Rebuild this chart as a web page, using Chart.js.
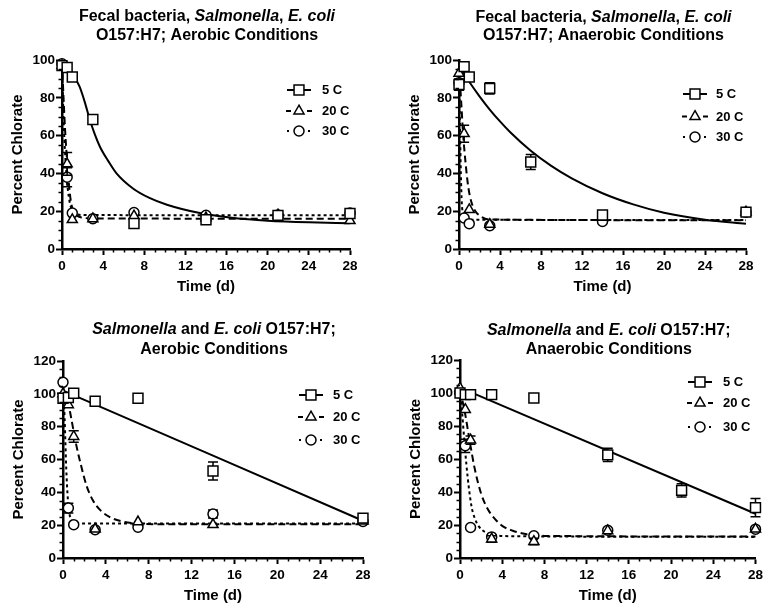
<!DOCTYPE html>
<html>
<head>
<meta charset="utf-8">
<script src="https://cdn.jsdelivr.net/npm/chart.js@4.4.1/dist/chart.umd.min.js"></script>
<style>
html,body{margin:0;padding:0;background:#fff;}
body{width:766px;height:605px;position:relative;overflow:hidden;}
canvas{position:absolute;display:block;}
</style>
</head>
<body>
<canvas id="pA" width="383" height="300" style="left:0;top:0"></canvas>
<canvas id="pB" width="383" height="300" style="left:383px;top:0"></canvas>
<canvas id="pC" width="383" height="305" style="left:0;top:300px"></canvas>
<canvas id="pD" width="383" height="305" style="left:383px;top:300px"></canvas>
<script>
// ---------------- DATA ----------------
const seriesLabels = ['5 C', '20 C', '30 C'];
const xTitle = 'Time (d)';
const yTitle = 'Percent Chlorate';

// Panel A: Fecal bacteria, Salmonella, E. coli O157:H7; Aerobic
const aDays   = [0, 0.5, 1, 3, 7, 14, 21, 28];
const a5C     = [97, 96, 91, 68.5, 13.5, 15.5, 17.8, 18.8];
const a5Cerr  = [0, 0, 0, 0, 0, 0, 0, 0];
const a20C    = [97, 45, 15.5, 16, 17.5, 16.5, 18, 15];
const a20Cerr = [0, 6, 0, 0, 0, 0, 0, 0];
const a30C    = [98, 38, 19, 16, 19.3, 17.8, 18, 19];
const a30Cerr = [0, 5, 0, 0, 0, 0, 0, 0];
const aFit5T  = [0, 0.5, 1, 1.7, 2.2, 2.7, 3.2, 3.7, 4.5, 5.3, 6.9, 8.5, 10.2, 13.4, 16.7, 20, 24, 28];
const aFit5Y  = [100, 97.5, 93, 86, 78, 68.5, 60.5, 54, 46.5, 40, 32, 27, 23.4, 19, 16.4, 15, 14.1, 13.6];
const aFit20T = [0, 0.15, 0.3, 0.45, 0.6, 0.75, 0.9, 1.1, 1.4, 2, 3, 28];
const aFit20Y = [99, 80, 63, 50, 39, 30, 24, 20, 17.8, 16.6, 16.2, 16];
const aFit30T = [0, 0.1, 0.2, 0.35, 0.5, 0.65, 0.8, 1, 1.4, 2, 28];
const aFit30Y = [99, 78, 62, 46, 35, 28, 23.5, 20.5, 18.6, 18, 17.8];

// Panel B: Fecal bacteria, Salmonella, E. coli O157:H7; Anaerobic
const bDays   = [0, 0.5, 1, 3, 7, 14, 28];
const b5C     = [87, 96.5, 91, 85, 46, 18, 19.5];
const b5Cerr  = [3, 0, 0, 3, 4, 2, 1];
const b20C    = [93, 61, 20.8, 13, null, 16.8, 19.5];
const b20Cerr = [0, 4.5, 0, 0, 0, 0, 0];
const b30C    = [88, 16.4, 13.4, 12.3, null, 14.6, 19.5];
const b30Cerr = [0, 0, 0, 0, 0, 0, 0];
const bFit5T  = [0, 1, 2, 3, 4, 5, 7, 9, 11, 14, 17, 20, 24, 28];
const bFit5Y  = [97, 88.5, 80.8, 73.8, 67.5, 61.8, 52, 44, 37.4, 29.5, 23.6, 19.2, 15.5, 13.3];
const bFit20T = [0, 0.2, 0.4, 0.65, 0.9, 1.2, 1.6, 2.2, 3, 28];
const bFit20Y = [96, 79, 61, 45, 33, 25, 20, 17, 15.6, 15.2];
const bFit30T = [0, 0.08, 0.16, 0.25, 0.35, 0.5, 0.8, 28];
const bFit30Y = [92, 70, 45, 27, 19.5, 16.5, 15.5, 15.3];

// Panel C: Salmonella and E. coli O157:H7; Aerobic
const cDays   = [0, 0.5, 1, 3, 7, 14, 28];
const c5C     = [97.3, 97.8, 100.4, 95.5, 97.3, 53, 24.3];
const c5Cerr  = [0, 0, 0, 0, 0, 5.5, 2];
const c20C    = [100, 93.3, 74, 17.6, 22, 20.3, 22.5];
const c20Cerr = [0, 0, 3.5, 0, 0, 0, 0];
const c30C    = [107, 30.4, 20.3, 17.2, 18.7, 26.8, 22.3];
const c30Cerr = [0, 3, 0, 0, 0, 2.5, 0];
const cFit5T  = [0, 28];
const cFit5Y  = [102, 22.7];
const cFit20T = [0, 0.4, 0.8, 1.2, 1.7, 2.2, 2.8, 3.5, 4.5, 5.5, 7, 9, 28];
const cFit20Y = [102, 97, 84, 70, 56, 44, 35, 29, 24.5, 22.3, 21, 20.6, 20.5];
const cFit30T = [0, 0.15, 0.3, 0.45, 0.6, 0.8, 1.1, 2, 28];
const cFit30Y = [107, 85, 55, 36, 27, 23, 21.5, 21, 21];

// Panel D: Salmonella and E. coli O157:H7; Anaerobic
const dDays   = [0, 0.5, 1, 3, 7, 14, 21, 28];
const d5C     = [100, 99, 99, 99, 97, 62.5, 41, 30.5];
const d5Cerr  = [0, 0, 0, 0, 0, 4, 4, 5.5];
const d20C    = [103, 90, 71.5, 11.5, 10, 16.5, null, 17.5];
const d20Cerr = [0, 0, 2.5, 2, 2, 0, 0, 0];
const d30C    = [100, 68, 18.5, 12.8, 13.5, 16.8, null, 17.5];
const d30Cerr = [0, 4, 0, 0, 0, 0, 0, 0];
const dFit5T  = [0, 28];
const dFit5Y  = [103.3, 26.8];
const dFit20T = [0, 0.47, 0.94, 1.4, 2, 2.6, 3.2, 4, 5, 6.2, 8, 28];
const dFit20Y = [102, 88, 70, 54, 39, 30, 24.5, 19.5, 16.5, 14.5, 13.4, 13];
const dFit30T = [0, 0.2, 0.4, 0.6, 0.85, 1.1, 1.4, 1.8, 2.4, 3.2, 5, 28];
const dFit30Y = [102, 88, 72, 57, 42, 31, 24, 19, 15.6, 14, 13.2, 12.8];

// Titles (segments: [text, italic])
const aTitle = [[['Fecal bacteria, ', 0], ['Salmonella', 1], [', ', 0], ['E. coli', 1]], [['O157:H7; Aerobic Conditions', 0]]];
const bTitle = [[['Fecal bacteria, ', 0], ['Salmonella', 1], [', ', 0], ['E. coli', 1]], [['O157:H7; Anaerobic Conditions', 0]]];
const cTitle = [[['Salmonella', 1], [' and ', 0], ['E. coli', 1], [' O157:H7;', 0]], [['Aerobic Conditions', 0]]];
const dTitle = [[['Salmonella', 1], [' and ', 0], ['E. coli', 1], [' O157:H7;', 0]], [['Anaerobic Conditions', 0]]];

// ---------------- STYLE / LAYOUT ----------------
const FONT = '"Liberation Sans", Arial, Helvetica, sans-serif';
const STYLES = [
  {pointStyle: 'rect', radius: 7, dash: []},
  {pointStyle: 'triangle', radius: 5.8, dash: [7, 4]},
  {pointStyle: 'circle', radius: 5, dash: [3, 3]}
];

function pts(xs, ys, es) {
  const out = [];
  xs.forEach((x, i) => {
    if (ys[i] === null || ys[i] === undefined) return;
    out.push({x: x, y: ys[i], e: es ? es[i] : 0});
  });
  return out;
}

function drawMarker(ctx, style, x, y, r) {
  ctx.beginPath();
  if (style === 'rect') {
    const s = Math.SQRT1_2 * r;
    ctx.rect(x - s, y - s, 2 * s, 2 * s);
  } else if (style === 'triangle') {
    let rad = 0;
    ctx.moveTo(x + Math.sin(rad) * r, y - Math.cos(rad) * r);
    rad += 2 * Math.PI / 3;
    ctx.lineTo(x + Math.sin(rad) * r, y - Math.cos(rad) * r);
    rad += 2 * Math.PI / 3;
    ctx.lineTo(x + Math.sin(rad) * r, y - Math.cos(rad) * r);
    ctx.closePath();
  } else {
    ctx.arc(x, y, r, 0, Math.PI * 2);
  }
  ctx.fillStyle = '#fff';
  ctx.fill();
  ctx.lineWidth = 1.5;
  ctx.strokeStyle = '#000';
  ctx.stroke();
}

function drawRich(ctx, segs, cx, cy, size) {
  let total = 0;
  const widths = segs.map(s => {
    ctx.font = (s[1] ? 'italic ' : '') + 'bold ' + size + 'px ' + FONT;
    const w = ctx.measureText(s[0]).width;
    total += w;
    return w;
  });
  let x = cx - total / 2;
  ctx.textAlign = 'left';
  segs.forEach((s, i) => {
    ctx.font = (s[1] ? 'italic ' : '') + 'bold ' + size + 'px ' + FONT;
    ctx.fillText(s[0], x, cy);
    x += widths[i];
  });
}

const errorBarPlugin = {
  id: 'errorBars',
  beforeDatasetDraw(chart, args) {
    const ds = chart.data.datasets[args.index];
    if (!ds.isPoints) return;
    const ctx = chart.ctx, xs = chart.scales.x, ys = chart.scales.y;
    ctx.save();
    ctx.strokeStyle = '#000';
    ctx.lineWidth = 1.5;
    ctx.setLineDash([]);
    ds.data.forEach(p => {
      if (!p.e) return;
      const px = xs.getPixelForValue(p.x);
      const t = ys.getPixelForValue(p.y + p.e);
      const b = ys.getPixelForValue(p.y - p.e);
      ctx.beginPath();
      ctx.moveTo(px, t); ctx.lineTo(px, b);
      ctx.moveTo(px - 5, t); ctx.lineTo(px + 5, t);
      ctx.moveTo(px - 5, b); ctx.lineTo(px + 5, b);
      ctx.stroke();
    });
    ctx.restore();
  }
};

const minorTickPlugin = {
  id: 'minorTicks',
  afterDraw(chart) {
    const ctx = chart.ctx, xs = chart.scales.x, ys = chart.scales.y, a = chart.chartArea;
    ctx.save();
    ctx.strokeStyle = '#000';
    ctx.lineWidth = 1.5;
    ctx.beginPath();
    for (let v = xs.min; v <= xs.max; v += 1) {
      if (v % 4 === 0) continue;
      const px = Math.round(xs.getPixelForValue(v)) + 0.5;
      ctx.moveTo(px, a.bottom); ctx.lineTo(px, a.bottom + 3.5);
    }
    for (let v = ys.min; v <= ys.max; v += 5) {
      if (v % 20 === 0) continue;
      const py = Math.round(ys.getPixelForValue(v)) + 0.5;
      ctx.moveTo(a.left, py); ctx.lineTo(a.left - 3.5, py);
    }
    ctx.stroke();
    ctx.restore();
  }
};

const textPlugin = {
  id: 'panelText',
  afterDraw(chart, args, opts) {
    const ctx = chart.ctx, a = chart.chartArea;
    const cx = (a.left + a.right) / 2;
    ctx.save();
    ctx.fillStyle = '#000';
    ctx.textBaseline = 'middle';
    opts.title.forEach((line, i) => drawRich(ctx, line, cx + 1, opts.titleY[i], 16));
    ctx.font = 'bold 15px ' + FONT;
    ctx.textAlign = 'center';
    ctx.fillText(xTitle, cx, a.bottom + 38);
    ctx.save();
    ctx.translate(a.left - 44, (a.top + a.bottom) / 2);
    ctx.rotate(-Math.PI / 2);
    ctx.fillText(yTitle, 0, 0);
    ctx.restore();
    // legend
    seriesLabels.forEach((lab, i) => {
      const st = STYLES[i];
      const y = opts.legRows[i];
      const sx = opts.legX;
      ctx.save();
      ctx.strokeStyle = '#000';
      ctx.lineWidth = 2;
      ctx.beginPath();
      if (i === 0) {
        ctx.moveTo(sx - 12, y); ctx.lineTo(sx + 12, y);
      } else if (i === 1) {
        ctx.moveTo(sx - 13, y); ctx.lineTo(sx - 8, y);
        ctx.moveTo(sx + 8, y); ctx.lineTo(sx + 13, y);
      } else {
        ctx.moveTo(sx - 12, y); ctx.lineTo(sx - 10, y);
        ctx.moveTo(sx + 9, y); ctx.lineTo(sx + 11, y);
      }
      ctx.stroke();
      ctx.restore();
      drawMarker(ctx, st.pointStyle, sx, y, st.radius);
      ctx.fillStyle = '#000';
      ctx.font = 'bold 13px ' + FONT;
      ctx.textAlign = 'left';
      ctx.fillText(lab, opts.legText, y + 0.5);
    });
    ctx.restore();
  }
};

function makePanel(cfg) {
  const datasets = [];
  cfg.series.forEach((s, i) => {
    const st = STYLES[i];
    datasets.push({
      label: seriesLabels[i] + ' fit', data: pts(s.fitT, s.fitY), showLine: true,
      borderColor: '#000', borderWidth: 2, borderDash: st.dash, pointRadius: 0,
      fill: false, cubicInterpolationMode: 'monotone', clip: false, order: 3
    });
  });
  cfg.series.forEach((s, i) => {
    const st = STYLES[i];
    datasets.push({
      label: seriesLabels[i], data: pts(cfg.days, s.y, s.err), showLine: false,
      pointStyle: st.pointStyle, pointRadius: st.radius, pointHoverRadius: st.radius,
      backgroundColor: '#fff', borderColor: '#000', pointBackgroundColor: '#fff',
      pointBorderColor: '#000', pointBorderWidth: 1.5, borderWidth: 1.5,
      clip: false, order: 1, isPoints: true
    });
  });
  const tickFont = {family: FONT, size: 13.5, weight: 'bold'};
  new Chart(document.getElementById(cfg.id), {
    type: 'scatter',
    data: {datasets: datasets},
    options: {
      responsive: false, animation: false, devicePixelRatio: 1, events: [],
      layout: {padding: {left: 0, top: cfg.T, right: cfg.W - cfg.R, bottom: 0}},
      plugins: {
        legend: {display: false}, tooltip: {enabled: false}, title: {display: false},
        panelText: {title: cfg.title, titleY: cfg.titleY, legX: cfg.legX, legText: cfg.legText, legRows: cfg.legRows}
      },
      scales: {
        x: {
          type: 'linear', min: 0, max: 28,
          ticks: {stepSize: 4, color: '#000', font: tickFont, padding: 3, maxRotation: 0, autoSkip: false},
          grid: {drawOnChartArea: false, drawTicks: true, tickLength: 6, tickWidth: 2, tickColor: '#000'},
          border: {display: true, color: '#000', width: 2.5},
          afterFit(s) { s.height = cfg.H - cfg.B; }
        },
        y: {
          type: 'linear', min: 0, max: cfg.ymax,
          ticks: {stepSize: 20, color: '#000', font: tickFont, padding: 1},
          grid: {drawOnChartArea: false, drawTicks: true, tickLength: 6, tickWidth: 2, tickColor: '#000'},
          border: {display: true, color: '#000', width: 2.5},
          afterFit(s) { s.width = cfg.L; }
        }
      }
    },
    plugins: [errorBarPlugin, minorTickPlugin, textPlugin]
  });
}

makePanel({id: 'pA', W: 383, H: 300, L: 62, R: 350, T: 60, B: 249, ymax: 100,
  title: aTitle, titleY: [17, 36], legX: 299, legText: 322, legRows: [90, 111, 131],
  days: aDays,
  series: [
    {y: a5C, err: a5Cerr, fitT: aFit5T, fitY: aFit5Y},
    {y: a20C, err: a20Cerr, fitT: aFit20T, fitY: aFit20Y},
    {y: a30C, err: a30Cerr, fitT: aFit30T, fitY: aFit30Y}
  ]});
makePanel({id: 'pB', W: 383, H: 300, L: 76, R: 363, T: 60, B: 249, ymax: 100,
  title: bTitle, titleY: [18, 36], legX: 312, legText: 333, legRows: [94, 116.5, 137],
  days: bDays,
  series: [
    {y: b5C, err: b5Cerr, fitT: bFit5T, fitY: bFit5Y},
    {y: b20C, err: b20Cerr, fitT: bFit20T, fitY: bFit20Y},
    {y: b30C, err: b30Cerr, fitT: bFit30T, fitY: bFit30Y}
  ]});
makePanel({id: 'pC', W: 383, H: 305, L: 63, R: 363, T: 61, B: 258, ymax: 120,
  title: cTitle, titleY: [30, 50], legX: 311, legText: 333, legRows: [95, 117, 140],
  days: cDays,
  series: [
    {y: c5C, err: c5Cerr, fitT: cFit5T, fitY: cFit5Y},
    {y: c20C, err: c20Cerr, fitT: cFit20T, fitY: cFit20Y},
    {y: c30C, err: c30Cerr, fitT: cFit30T, fitY: cFit30Y}
  ]});
makePanel({id: 'pD', W: 383, H: 305, L: 77, R: 376, T: 60, B: 258, ymax: 120,
  title: dTitle, titleY: [31, 50], legX: 317, legText: 340, legRows: [82, 103, 127],
  days: dDays,
  series: [
    {y: d5C, err: d5Cerr, fitT: dFit5T, fitY: dFit5Y},
    {y: d20C, err: d20Cerr, fitT: dFit20T, fitY: dFit20Y},
    {y: d30C, err: d30Cerr, fitT: dFit30T, fitY: dFit30Y}
  ]});
</script>
</body>
</html>
